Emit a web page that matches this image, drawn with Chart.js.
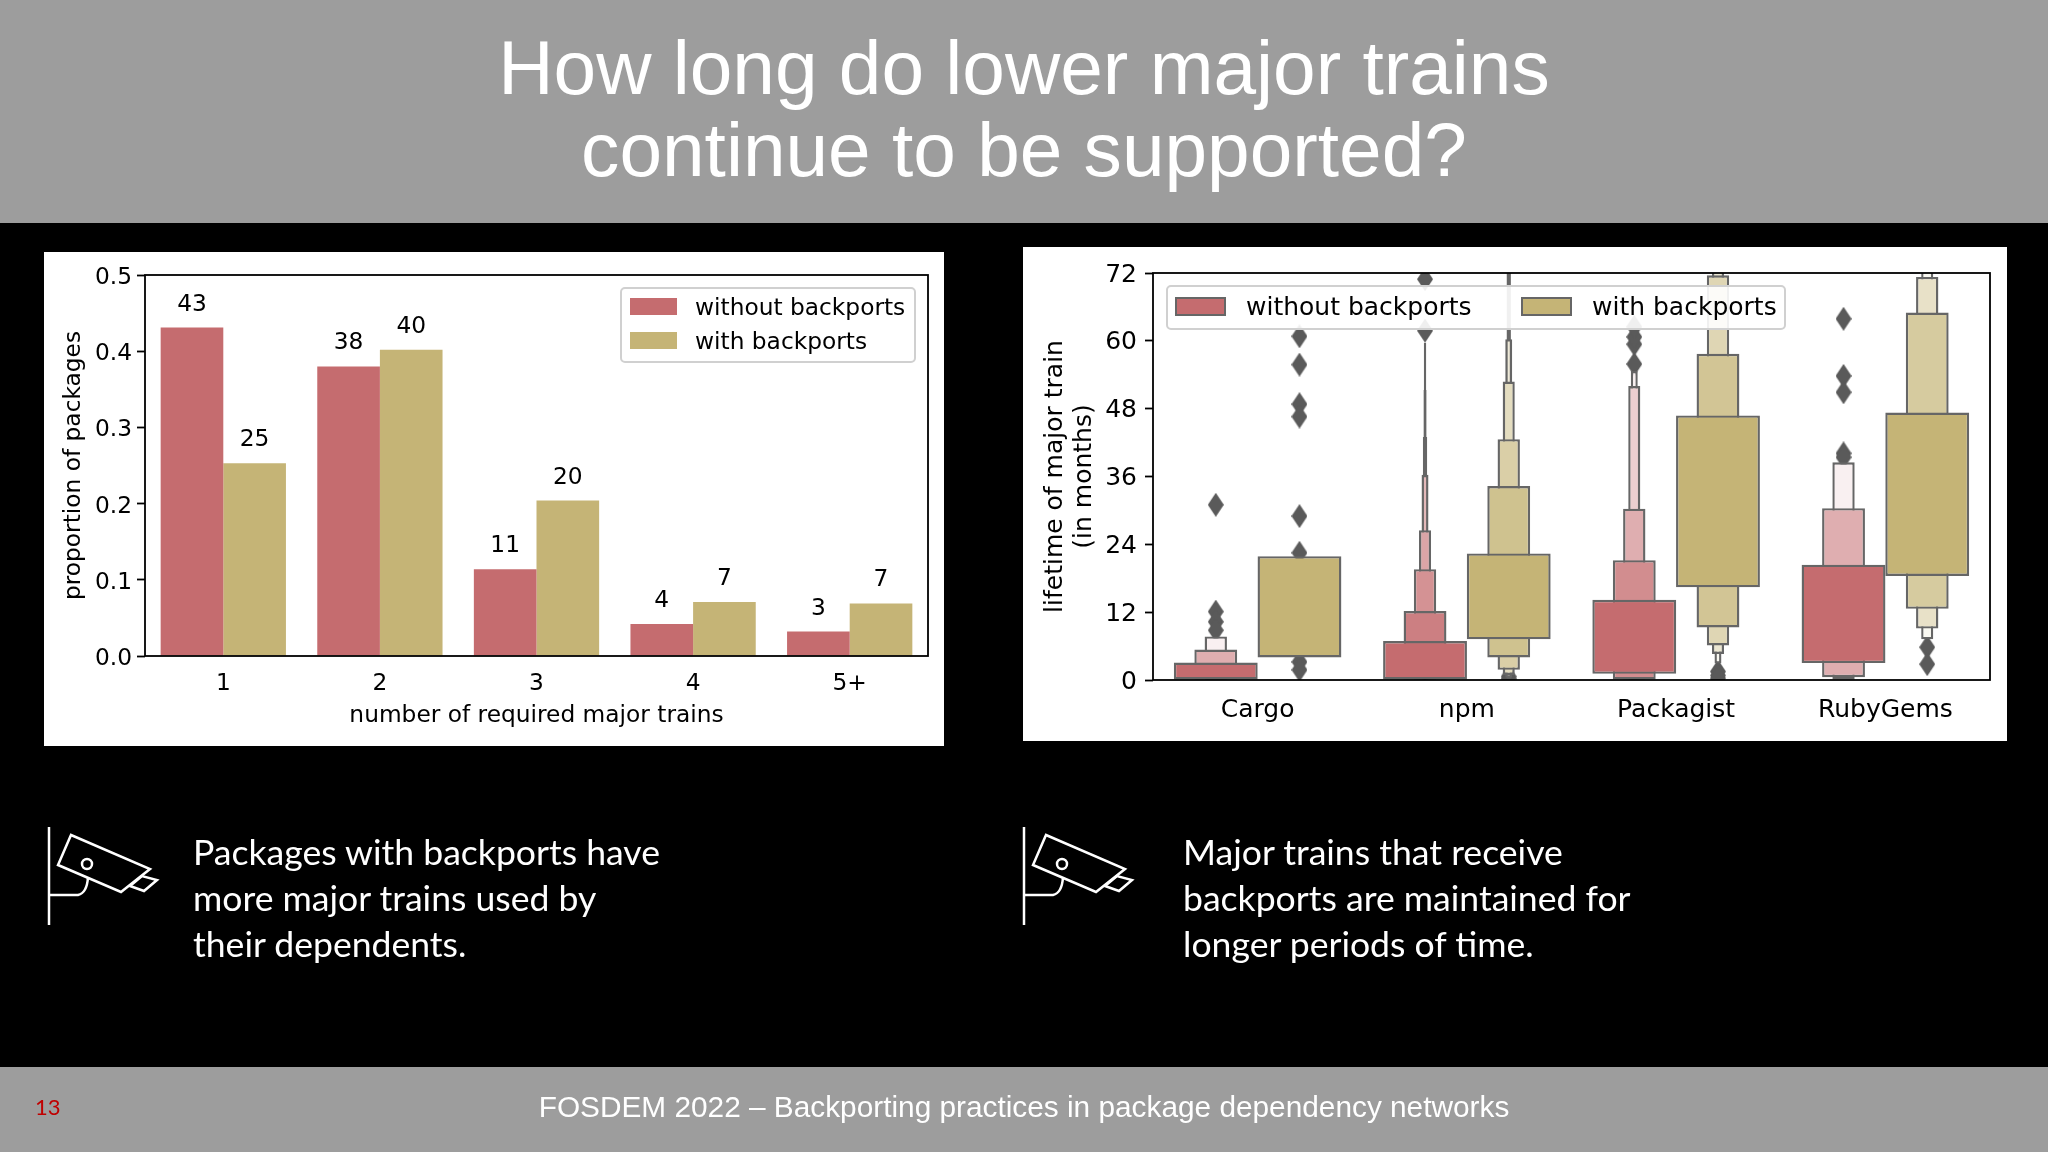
<!DOCTYPE html>
<html>
<head>
<meta charset="utf-8">
<script src="https://cdn.jsdelivr.net/npm/chart.js@4/dist/chart.umd.min.js"></script>
<style>
html, body { margin: 0; padding: 0; background: #000; }
#slide { position: relative; width: 2048px; height: 1152px; background: #000; overflow: hidden; }
.band { position: absolute; left: 0; width: 2048px; background: #9d9d9d; }
.title { position: absolute; left: 0; width: 2048px; text-align: center; color: #fff; font-family: "Liberation Sans"; font-size: 76.6px; line-height: 82px; }
.panel { position: absolute; background: #fff; }
.panel canvas { display: block; }
.caption { position: absolute; color: #fff; font-family: Lato; font-size: 35.6px; line-height: 46px; white-space: pre; }
.legend { position: absolute; box-sizing: border-box; background: rgba(255,255,255,0.9); border: 2px solid #d0d0d0; border-radius: 5px; }
.swatch { position: absolute; box-sizing: border-box; }
.ltext { position: absolute; font-family: "DejaVu Sans"; font-size: 23.3px; line-height: 28px; color: #000; white-space: pre; }
.icon { position: absolute; left: 0; top: 0; }
</style>
</head>
<body>
<div id="slide">
  <div class="band" style="top:0;height:223px"></div>
  <div class="band" style="top:1067px;height:85px"></div>
  <div class="title" style="top:27px">How long do lower major trains</div>
  <div class="title" style="top:109px">continue to be supported?</div>

  <div class="panel" style="left:44px;top:252px;width:900px;height:494px"><canvas id="trainsChart" width="900" height="494"></canvas></div>
  <div class="panel" style="left:1023px;top:247px;width:984px;height:494px"><canvas id="lifetimeChart" width="984" height="494"></canvas></div>

  <div class="legend" style="left:620px;top:287px;width:296px;height:76px"></div>
  <div class="swatch" style="left:630px;top:298px;width:47px;height:17px;background:#c56c6f"></div>
  <div class="swatch" style="left:630px;top:332px;width:47px;height:17px;background:#c5b476"></div>
  <div class="ltext" style="left:695px;top:293px">without backports</div>
  <div class="ltext" style="left:695px;top:327px">with backports</div>

  <div class="legend" style="left:1166px;top:285px;width:620px;height:45px"></div>
  <div class="swatch" style="left:1175px;top:297px;width:51px;height:19px;background:#c56c6f;border:2px solid #666"></div>
  <div class="swatch" style="left:1521px;top:297px;width:51px;height:19px;background:#c5b476;border:2px solid #666"></div>
  <div class="ltext" style="left:1246px;top:292.5px;font-size:25px">without backports</div>
  <div class="ltext" style="left:1592px;top:292.5px;font-size:25px">with backports</div>

  <svg class="icon" width="2048" height="1152" fill="none" stroke="#fff" stroke-width="2.5">
    <g id="cam">
      <path d="M49 827V925"/>
      <path d="M49 895H78Q87 893 88 877"/>
      <path d="M71 835L150 869L121 892L58 865Z"/>
      <path d="M130 886L142 876L157 880L144 891Z"/>
      <circle cx="87" cy="864" r="5"/>
    </g>
    <use href="#cam" x="975"/>
  </svg>

  <div class="caption" style="left:193px;top:829px">Packages with backports have
more major trains used by
their dependents.</div>
  <div class="caption" style="left:1183px;top:829px">Major trains that receive
backports are maintained for
longer periods of time.</div>

  <div style="position:absolute;left:35px;top:1094px;color:#c00000;font-family:Lato;font-size:22px;line-height:26px">13</div>
  <div style="position:absolute;left:0;top:1089px;width:2048px;text-align:center;color:#fff;font-family:'Liberation Sans';font-size:29.8px;line-height:36px">FOSDEM 2022 – Backporting practices in package dependency networks</div>
</div>

<script>
// left chart
const trainLabels = ["1", "2", "3", "4", "5+"];
const withoutShare = [0.431, 0.380, 0.114, 0.042, 0.032];
const withShare = [0.253, 0.402, 0.204, 0.071, 0.069];
const withoutPercent = ["43", "38", "11", "4", "3"];
const withPercent = ["25", "40", "20", "7", "7"];

// right chart, one inner list per ecosystem, one entry per letter-value level
const ecosystems = ["Cargo", "npm", "Packagist", "RubyGems"];
const withoutTops = [
    [3.1, 5.4, 7.7],
    [6.9, 12.2, 19.6, 26.5, 36.3, 43, 51.3, 59.6],
    [14.2, 21.2, 30.3, 52, 54.7],
    [20.4, 30.4, 38.5]
];
const withoutBottoms = [
    [0, 0, 0],
    [0.1, 0, 0, 0, 0, 0, 0, 0],
    [1.1, 0, 0, 0, 0],
    [3, 0.5, 0]
];
const withTops = [
    [21.9],
    [22.4, 34.3, 42.6, 52.8, 60.3, 75],
    [46.8, 57.7, 71.6, 75, 75],
    [47.3, 65, 71.3, 75]
];
const withBottoms = [
    [4],
    [7.2, 4, 1.8, 0.9, 0.4, 0.2],
    [16.4, 9.3, 6.1, 4.6, 2.9],
    [18.4, 12.6, 9.1, 7.2]
];
const withoutOutliers = [
    [31, 12.1, 10.3, 8.8],
    [70.9, 61.8],
    [55.9, 59.4, 60.7, 62.5],
    [63.9, 53.8, 50.9, 40.1, 39.4]
];
const withOutliers = [
    [60.8, 55.8, 48.8, 46.6, 29, 22.5, 3.2, 1.8],
    [0.6, 0.2],
    [1.5, 0.8, 0.3],
    [5.8, 2.8]
];

const RED = [197, 108, 111];
const GOLD = [197, 180, 118];
const EDGE = "#666666";
const FONT = "DejaVu Sans";

Chart.defaults.font.family = FONT;
Chart.defaults.font.size = 23.3;
Chart.defaults.color = "#000";
Chart.defaults.animation = false;

// axes box on all four sides
const framePlugin = {
    id: "frame",
    afterDraw(chart) {
        const a = chart.chartArea;
        const ctx = chart.ctx;
        ctx.save();
        ctx.strokeStyle = "#000";
        ctx.lineWidth = 1.8;
        ctx.strokeRect(a.left, a.top, a.right - a.left, a.bottom - a.top);
        ctx.restore();
    }
};

// percent numbers above the bars
const percentPlugin = {
    id: "percent",
    afterDatasetsDraw(chart) {
        const ctx = chart.ctx;
        ctx.save();
        ctx.font = "23.3px '" + FONT + "'";
        ctx.fillStyle = "#000";
        ctx.textAlign = "center";
        ctx.textBaseline = "middle";
        [withoutPercent, withPercent].forEach((texts, d) => {
            chart.getDatasetMeta(d).data.forEach((bar, i) => {
                ctx.fillText(texts[i], bar.x, bar.y - 23);
            });
        });
        ctx.restore();
    }
};

new Chart(document.getElementById("trainsChart"), {
    type: "bar",
    data: {
        labels: trainLabels,
        datasets: [
            { data: withoutShare, backgroundColor: "rgb(197,108,111)", categoryPercentage: 0.8, barPercentage: 1 },
            { data: withShare, backgroundColor: "rgb(197,180,118)", categoryPercentage: 0.8, barPercentage: 1 }
        ]
    },
    options: {
        responsive: false,
        layout: { padding: { left: 16, right: 16, top: 23, bottom: 16 } },
        plugins: { legend: { display: false }, tooltip: { enabled: false } },
        scales: {
            x: {
                afterFit: (s) => { s.height = 74; },
                grid: { display: false, tickLength: 8, tickColor: "#000", tickWidth: 1.8 },
                border: { display: false },
                ticks: { padding: 6, maxRotation: 0 },
                title: { display: true, text: "number of required major trains", padding: { top: 4, bottom: 0 } }
            },
            y: {
                min: 0,
                max: 0.5,
                afterFit: (s) => { s.width = 85; },
                grid: { drawOnChartArea: false, tickLength: 8, tickColor: "#000", tickWidth: 1.8 },
                border: { display: false },
                ticks: { stepSize: 0.1, padding: 5, labelOffset: 3, callback: (v) => v.toFixed(1) },
                title: { display: true, text: "proportion of packages", padding: { top: 0, bottom: 6 } }
            }
        }
    },
    plugins: [framePlugin, percentPlugin]
});

// thin diamond used for the outliers
function diamond() {
    const c = document.createElement("canvas");
    c.width = 16;
    c.height = 24;
    const g = c.getContext("2d");
    g.fillStyle = "#5a5a5a";
    g.beginPath();
    g.moveTo(8, 0);
    g.lineTo(16, 12);
    g.lineTo(8, 24);
    g.lineTo(0, 12);
    g.closePath();
    g.fill();
    return c;
}

// lighter colour for each level further from the median box
function levelColor(base, level, count) {
    // the thinnest levels are nothing but edge
    if (level >= 5) return EDGE;
    const t = count > 1 ? 0.9 * level / (count - 1) : 0;
    const m = base.map((v) => Math.round(v + (255 - v) * t));
    return "rgb(" + m.join(",") + ")";
}

function levelDatasets(tops, bottoms, base, stack) {
    const depth = Math.max(...tops.map((t) => t.length));
    const sets = [];
    for (let level = 0; level < depth; level++) {
        sets.push({
            stack: stack,
            order: 1,
            data: tops.map((t, i) => (level < t.length ? [bottoms[i][level], t[level]] : null)),
            backgroundColor: (ctx) => levelColor(base, level, tops[ctx.dataIndex].length),
            borderColor: EDGE,
            borderWidth: 2.4,
            borderSkipped: false,
            categoryPercentage: 0.8,
            // halves per level, plus a bit since the border is drawn inside the bar
            barPercentage: 0.98 / Math.pow(2, level) + 0.022
        });
    }
    return sets;
}

// parsing off so the category scale takes the dodged fractional x as is
function outlierDataset(outliers, dodge, marker) {
    const pts = [];
    outliers.forEach((list, i) => list.forEach((v) => pts.push({ x: i + dodge, y: v })));
    return { type: "scatter", order: 2, parsing: false, data: pts, pointStyle: marker };
}

const marker = diamond();

new Chart(document.getElementById("lifetimeChart"), {
    type: "bar",
    data: {
        labels: ecosystems,
        datasets: [
            ...levelDatasets(withoutTops, withoutBottoms, RED, "without"),
            ...levelDatasets(withTops, withBottoms, GOLD, "with"),
            outlierDataset(withoutOutliers, -0.2, marker),
            outlierDataset(withOutliers, 0.2, marker)
        ]
    },
    options: {
        responsive: false,
        layout: { padding: { left: 18, right: 17, top: 26, bottom: 0 } },
        plugins: { legend: { display: false }, tooltip: { enabled: false } },
        scales: {
            x: {
                afterFit: (s) => { s.height = 61; },
                grid: { display: false, tickLength: 8, tickColor: "#000", tickWidth: 1.8 },
                border: { display: false },
                ticks: { padding: 7, maxRotation: 0, font: { size: 25 } }
            },
            y: {
                min: 0,
                max: 72,
                stacked: false,
                afterFit: (s) => { s.width = 112; },
                grid: { drawOnChartArea: false, tickLength: 8, tickColor: "#000", tickWidth: 1.8 },
                border: { display: false },
                ticks: { stepSize: 12, padding: 8, labelOffset: 2, font: { size: 25 } },
                title: { display: true, text: ["lifetime of major train", "(in months)"], padding: { top: 0, bottom: 6 }, font: { size: 25, lineHeight: 1.15 } }
            }
        }
    },
    plugins: [framePlugin]
});
</script>
</body>
</html>
